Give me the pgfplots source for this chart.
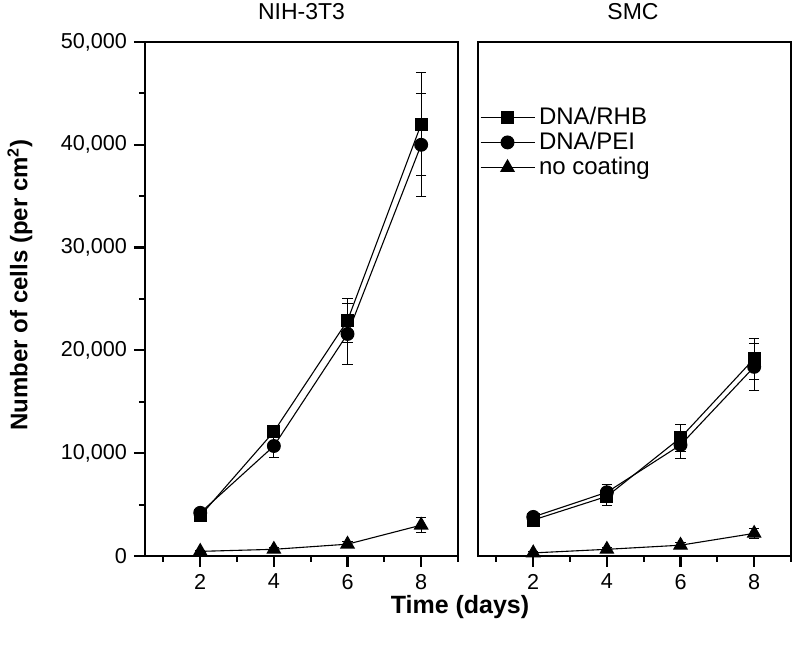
\documentclass[border=0pt]{standalone}
\usepackage{fontspec}
\setmainfont{Liberation Sans}
\usepackage{pgfplots}
\pgfplotsset{compat=1.18}
\begin{document}
\begin{tikzpicture}
\pgfplotsset{
  panel/.style={
    scale only axis, width=156.5pt, height=257pt,
    xmin=0.5, xmax=9, ymin=0, ymax=50000,
    xtick={2,4,6,8}, minor xtick={1,3,5,7,9},
    tick align=outside, major tick length=5.5pt, minor tick length=3pt,
    xtick pos=bottom, ytick pos=left,
    axis line style={line width=1.3pt},
    major tick style={black, line width=1.1pt},
    minor tick style={black, line width=1pt},
    tick label style={font=\fontsize{10.8}{12}\selectfont},
    /pgf/number format/assume math mode=true,
    /pgf/number format/1000 sep={,},
    scaled y ticks=false,
    clip=false,
  },
  sq/.style={black, line width=0.55pt, mark=square*, mark size=3pt, mark options={solid, fill=black},
    error bars/.cd, y dir=both, y explicit, error bar style={line width=0.5pt, black},
    error mark options={rotate=90, mark size=2.6pt, line width=0.5pt, black}},
  ci/.style={black, line width=0.55pt, mark=*, mark size=3.2pt, mark options={solid, fill=black},
    error bars/.cd, y dir=both, y explicit, error bar style={line width=0.5pt, black},
    error mark options={rotate=90, mark size=2.6pt, line width=0.5pt, black}},
  tr/.style={black, line width=0.55pt, mark=triangle*, mark size=3.8pt, mark options={solid, fill=black},
    error bars/.cd, y dir=both, y explicit, error bar style={line width=0.5pt, black},
    error mark options={rotate=90, mark size=2.6pt, line width=0.5pt, black}},
}
\begin{axis}[panel,
  ytick={0,10000,20000,30000,40000,50000},
  minor ytick={5000,15000,25000,35000,45000},
]
\addplot[sq] coordinates {(2,3900) +- (0,300) (4,12100) +- (0,500) (6,22900) +- (0,2100) (8,42000) +- (0,5000)};
\addplot[ci] coordinates {(2,4200) +- (0,300) (4,10700) +- (0,1070) (6,21600) +- (0,3000) (8,40000) +- (0,5000)};
\addplot[tr] coordinates {(2,450) +- (0,100) (4,650) +- (0,150) (6,1150) +- (0,300) (8,3000) +- (0,750)};
\end{axis}
\begin{axis}[panel, at={(166.5pt,0pt)},
  ytick=\empty,
  legend style={draw=none, fill=none, at={(0.005,0.882)}, anchor=north west,
    font=\fontsize{12}{14}\selectfont, inner sep=0pt, row sep=-1.6pt,
    /tikz/every even column/.append style={column sep=0pt}},
  legend cell align=left,
  legend image code/.code={\draw[#1, mark repeat=2, mark phase=2] plot coordinates {(0pt,0pt) (13.5pt,0pt) (27pt,0pt)};},
]
\addplot[sq] coordinates {(2,3500) +- (0,300) (4,5800) +- (0,850) (6,11500) +- (0,1300) (8,19200) +- (0,2000)};
\addplot[ci] coordinates {(2,3800) +- (0,250) (4,6200) +- (0,800) (6,10800) +- (0,1300) (8,18400) +- (0,2300)};
\addplot[tr] coordinates {(2,300) +- (0,100) (4,650) +- (0,150) (6,1050) +- (0,250) (8,2200) +- (0,500)};
\legend{DNA/RHB, DNA/PEI, no coating}
\end{axis}
\node at (78.25pt,272pt) {\fontsize{11.5}{13}\selectfont NIH-3T3};
\node at (244pt,272pt) {\fontsize{11.5}{13}\selectfont SMC};
\node at (157.5pt,-25.5pt) {\fontsize{12.5}{14}\selectfont\bfseries Time (days)};
\node[rotate=90] at (-62.5pt,135.5pt) {\fontsize{12}{14}\selectfont\bfseries Number of cells (per cm\textsuperscript{2})};
\pgfresetboundingbox
\path[use as bounding box] (-72.5pt,-51.5pt) rectangle (327.5pt,278pt);
\end{tikzpicture}
\end{document}
